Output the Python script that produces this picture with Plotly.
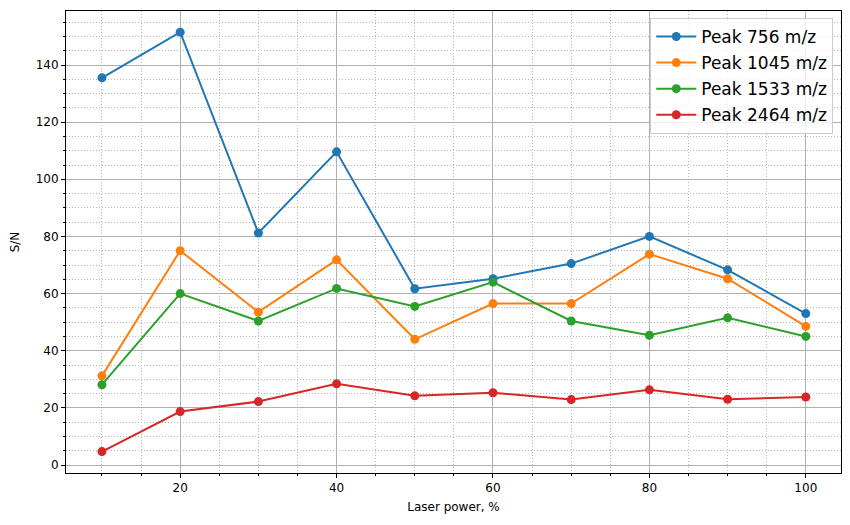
import plotly.graph_objects as go

laser_power = [10, 20, 30, 40, 50, 60, 70, 80, 90, 100]
peak_756 = [135.5, 151.5, 81.2, 109.6, 61.7, 65.2, 70.5, 80.0, 68.3, 53.0]
peak_1045 = [31.2, 75.0, 53.5, 71.8, 44.0, 56.5, 56.5, 73.8, 65.2, 48.5]
peak_1533 = [28.1, 60.0, 50.4, 61.8, 55.5, 64.0, 50.4, 45.4, 51.5, 45.0]
peak_2464 = [4.7, 18.7, 22.2, 28.4, 24.2, 25.3, 22.9, 26.3, 23.0, 23.8]

series_names = ["Peak 756 m/z", "Peak 1045 m/z", "Peak 1533 m/z", "Peak 2464 m/z"]
series_values = [peak_756, peak_1045, peak_1533, peak_2464]
colors = ["#1f77b4", "#ff7f0e", "#2ca02c", "#d62728"]

fig = go.Figure()
for i, (name, vals, c) in enumerate(zip(series_names, series_values, colors)):
    fig.add_trace(go.Scatter(
        x=laser_power, y=vals, name=name, mode="lines+markers",
        line=dict(color=c, width=2), marker=dict(color=c, size=9),
        legendgroup=f"g{i}",
    ))

axis_common = dict(
    showline=True, linecolor="black", linewidth=1, mirror=True,
    ticks="outside", ticklen=4, tickcolor="black",
    showgrid=True, gridcolor="#b0b0b0", gridwidth=1,
    zeroline=False,
    tickfont=dict(family="DejaVu Sans", size=12, color="black"),
)

minor_common = dict(dtick=5, tick0=0, ticks="outside", ticklen=2, tickcolor="black",
                    showgrid=True, gridcolor="#b8b8b8", griddash="1px,2px", gridwidth=1)

fig.update_xaxes(
    **axis_common,
    range=[5.4, 104.5], tickvals=[20, 40, 60, 80, 100],
    minor=minor_common,
    title=dict(text="Laser power, %", font=dict(family="DejaVu Sans", size=12, color="black"), standoff=8),
)
fig.update_yaxes(
    **axis_common,
    range=[-2.8, 158.9], tickvals=[0, 20, 40, 60, 80, 100, 120, 140],
    minor=minor_common,
    title=dict(text="S/N", font=dict(family="DejaVu Sans", size=12, color="black"), standoff=13),
)

fig.update_layout(
    width=850, height=525,
    margin=dict(l=58, r=17, t=3, b=60, autoexpand=False),
    plot_bgcolor="white", paper_bgcolor="white",
    font=dict(family="DejaVu Sans", color="black"),
    legend=dict(
        x=0.99, y=0.985, xanchor="right", yanchor="top",
        bgcolor="rgba(255,255,255,0.8)", bordercolor="#cccccc", borderwidth=1,
        font=dict(family="DejaVu Sans", size=17, color="black"),
        tracegroupgap=1, itemwidth=40,
    ),
)

fig.write_html("out.html")
